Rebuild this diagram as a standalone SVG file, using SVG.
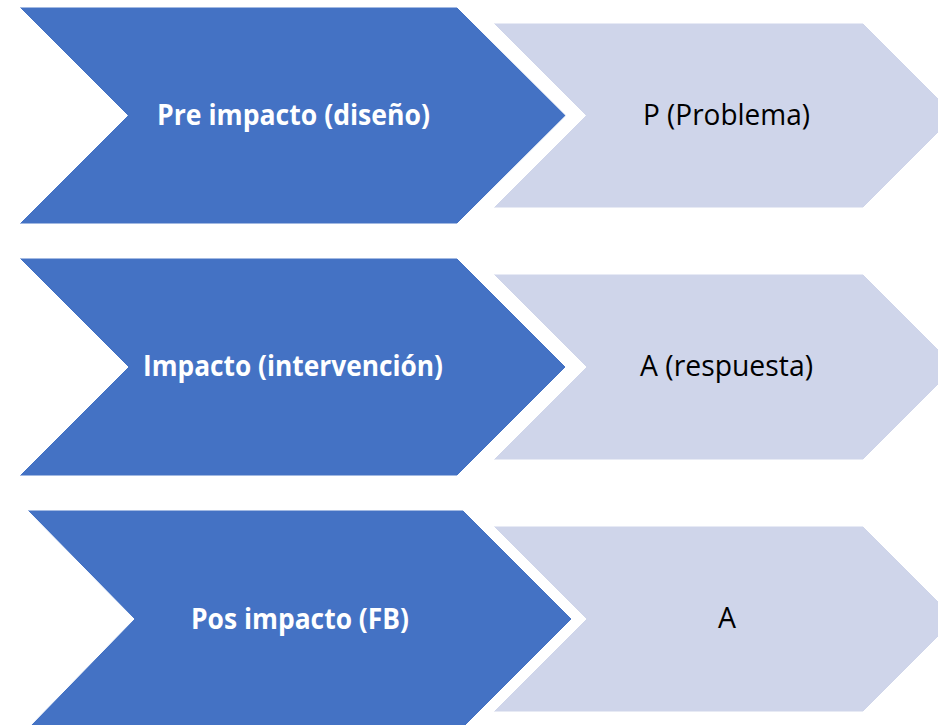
<svg xmlns="http://www.w3.org/2000/svg" width="938" height="725" viewBox="0 0 938 725">
<style>
.dark{fill:#4472C4;stroke:#ffffff;stroke-width:1}
.light{fill:#CFD5EA;stroke:#ffffff;stroke-width:1}
.t1{font-family:"Open Sans","Liberation Sans",sans-serif;font-weight:bold;font-size:28.5px;fill:#ffffff}
.t2{font-family:"Open Sans","Liberation Sans",sans-serif;font-size:28.5px;fill:#000000}
</style>
<rect width="938" height="725" fill="#ffffff"/>
<g id="row1-stage">
<polygon class="dark" points="19,7 457,7 566,115.5 457,224 19,224 127.5,115.5"/>
<text class="t1" x="157" y="125" textLength="273" lengthAdjust="spacingAndGlyphs">Pre impacto (diseño)</text>
</g>
<g id="row1-item">
<polygon class="light" points="493,23 863,23 955.5,115.5 863,208 493,208 585.5,115.5"/>
<text class="t2" x="643" y="125" textLength="167" lengthAdjust="spacingAndGlyphs">P (Problema)</text>
</g>
<g id="row2-stage">
<polygon class="dark" points="19,258 457,258 566,367 457,476 19,476 128,367"/>
<text class="t1" x="143" y="376" textLength="300" lengthAdjust="spacingAndGlyphs">Impacto (intervención)</text>
</g>
<g id="row2-item">
<polygon class="light" points="493,274 863,274 956,367 863,460 493,460 586,367"/>
<text class="t2" x="640" y="376" textLength="173" lengthAdjust="spacingAndGlyphs">A (respuesta)</text>
</g>
<g id="row3-stage">
<polygon class="dark" points="27,510 463,510 572,619 463,728 28,728 134,619"/>
<text class="t1" x="191" y="629" textLength="218" lengthAdjust="spacingAndGlyphs">Pos impacto (FB)</text>
</g>
<g id="row3-item">
<polygon class="light" points="493,526 863,526 956,619 863,712 493,712 586,619"/>
<text class="t2" x="718" y="628" textLength="18" lengthAdjust="spacingAndGlyphs">A</text>
</g>
<g id="connectors"/>
</svg>
